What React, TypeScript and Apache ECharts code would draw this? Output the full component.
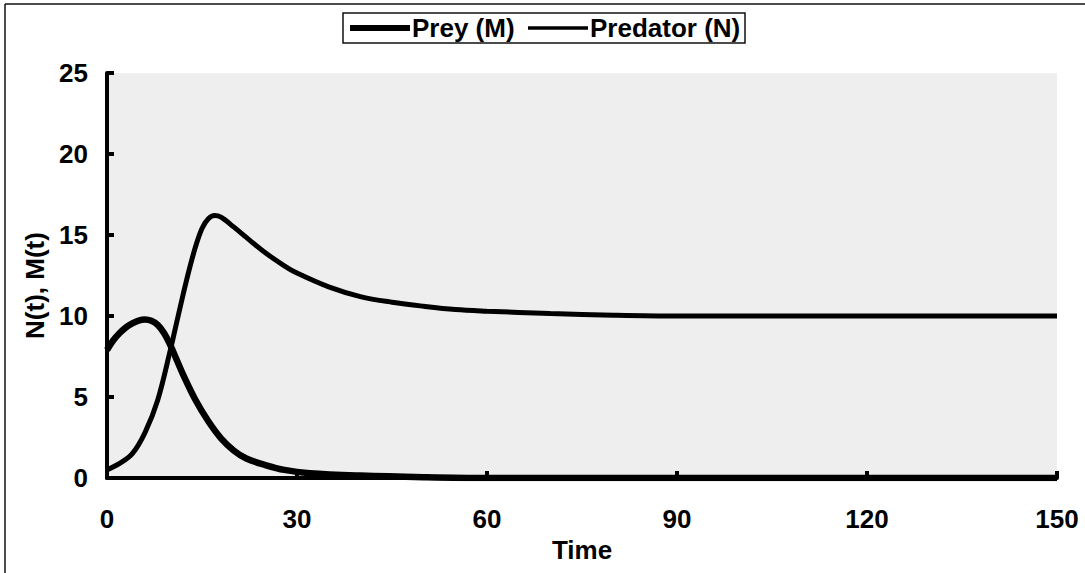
import React, { useEffect, useRef } from "react";
import * as echarts from "echarts";

const preyTime = [0, 1, 2, 3, 4, 5, 6, 7, 8, 9, 10, 11, 12, 14, 16, 18, 20, 22, 25, 28, 32, 40, 50, 60, 90, 120, 150];
const preyValues = [7.9, 8.5, 8.95, 9.3, 9.55, 9.72, 9.78, 9.7, 9.45, 8.95, 8.2, 7.3, 6.4, 4.8, 3.5, 2.45, 1.7, 1.2, 0.8, 0.5, 0.3, 0.15, 0.05, 0, 0, 0, 0];

const predTime = [0, 2, 4, 6, 8, 10, 11, 12, 13, 14, 15, 16, 17, 18, 20, 22, 25, 28, 30, 35, 40, 45, 50, 55, 60, 70, 80, 90, 120, 150];
const predValues = [0.5, 0.9, 1.5, 2.8, 4.8, 7.9, 9.6, 11.3, 12.9, 14.3, 15.4, 16.0, 16.2, 16.1, 15.5, 14.85, 13.9, 13.1, 12.65, 11.8, 11.2, 10.85, 10.6, 10.4, 10.3, 10.15, 10.05, 10.0, 10.0, 10.0];

const xTicks = { min: 0, max: 150, interval: 30 };
const yTicks = { min: 0, max: 25, interval: 5 };

const FONT = "'Liberation Sans', Arial, Helvetica, sans-serif";

export default function App() {
  const ref = useRef<HTMLDivElement>(null);
  useEffect(() => {
    if (!ref.current) return;
    const chart = echarts.init(ref.current, undefined, { renderer: "svg" });
    const preyData = preyTime.map((t, i) => [t, preyValues[i]]);
    const predData = predTime.map((t, i) => [t, predValues[i]]);
    const textBase = { color: "#000", fontFamily: FONT, fontWeight: "bold" as const, fontSize: 26 };
    chart.setOption({
      animation: false,
      backgroundColor: "#fff",
      grid: {
        left: 107,
        right: 28,
        top: 73,
        bottom: 95,
        show: true,
        backgroundColor: "#eeeeee",
        borderWidth: 0,
      },
      graphic: [
        { type: "line", shape: { x1: 5, y1: 4, x2: 1085, y2: 4 }, style: { stroke: "#111", lineWidth: 1.5 } },
        { type: "line", shape: { x1: 5, y1: 4, x2: 5, y2: 573 }, style: { stroke: "#111", lineWidth: 1.5 } },
        {
          type: "rect",
          shape: { x: 343, y: 13, width: 402, height: 30 },
          style: { fill: "#fff", stroke: "#111", lineWidth: 1.5 },
          z: -1,
        },
      ],
      legend: [
        {
          data: ["Prey (M)"],
          left: 350,
          top: 15,
          padding: 0,
          icon: "rect",
          itemWidth: 60,
          itemHeight: 6,
          itemGap: 0,
          itemStyle: { color: "#000" },
          textStyle: { ...textBase, padding: [0, 0, 0, -3] },
        },
        {
          data: ["Predator (N)"],
          left: 528,
          top: 15,
          padding: 0,
          icon: "rect",
          itemWidth: 60,
          itemHeight: 3.5,
          itemGap: 0,
          itemStyle: { color: "#000" },
          textStyle: { ...textBase, padding: [0, 0, 0, -3] },
        },
      ],
      xAxis: {
        type: "value",
        min: xTicks.min,
        max: xTicks.max,
        interval: xTicks.interval,
        name: "Time",
        nameLocation: "middle",
        nameGap: 44,
        nameTextStyle: { ...textBase },
        axisLine: { show: true, onZero: false, lineStyle: { color: "#000", width: 4 } },
        axisTick: { show: true, inside: true, length: 7, lineStyle: { color: "#000", width: 4 } },
        axisLabel: { ...textBase, margin: 28 },
        splitLine: { show: false },
      },
      yAxis: {
        type: "value",
        min: yTicks.min,
        max: yTicks.max,
        interval: yTicks.interval,
        name: "N(t), M(t)",
        nameLocation: "middle",
        nameGap: 51,
        nameRotate: 90,
        nameTextStyle: { ...textBase, padding: [0, 20, 0, 0] },
        axisLine: { show: true, lineStyle: { color: "#000", width: 4 } },
        axisTick: { show: true, inside: true, length: 7, lineStyle: { color: "#000", width: 4 } },
        axisLabel: { ...textBase, margin: 19 },
        splitLine: { show: false },
      },
      series: [
        {
          name: "Prey (M)",
          type: "line",
          data: preyData,
          smooth: 0.35,
          symbol: "none",
          lineStyle: { color: "#000", width: 6.5 },
          itemStyle: { color: "#000" },
          z: 3,
        },
        {
          name: "Predator (N)",
          type: "line",
          data: predData,
          smooth: 0.35,
          symbol: "none",
          lineStyle: { color: "#000", width: 5 },
          itemStyle: { color: "#000" },
          z: 3,
        },
      ],
    });
    return () => chart.dispose();
  }, []);
  return (
    <div
      ref={ref}
      style={{ position: "fixed", left: 0, top: 0, width: 1085, height: 573 }}
    />
  );
}
